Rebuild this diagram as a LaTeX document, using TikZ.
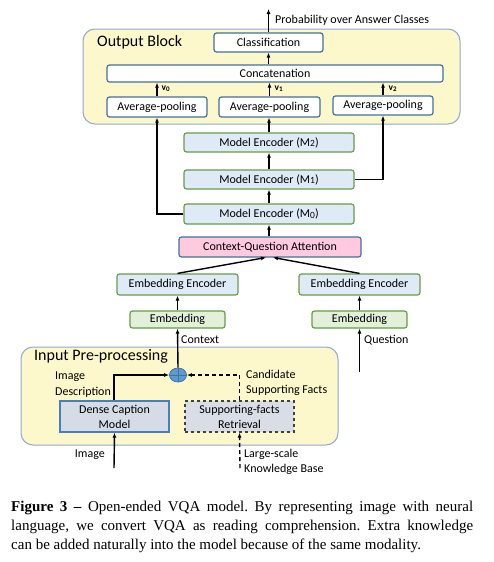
\documentclass[tikz,border=0pt]{standalone}
\usepackage{fontspec}
\setmainfont{Carlito}
\newfontfamily\capfont{Liberation Serif}
\usetikzlibrary{arrows.meta,shapes.geometric}
\definecolor{bdblue}{HTML}{41719C}
\definecolor{bdgreen}{HTML}{6A9A4A}
\definecolor{encfill}{HTML}{DEEBF7}
\definecolor{embfill}{HTML}{E2F0D9}
\definecolor{pinkfill}{HTML}{FFC9DE}
\definecolor{blockfill}{HTML}{FDF8CB}
\definecolor{blockbd}{HTML}{8FAACC}
\definecolor{densefill}{HTML}{D6DCE5}
\definecolor{densebd}{HTML}{4A7EBB}
\definecolor{sfrfill}{HTML}{D9DDE6}
\definecolor{circfill}{HTML}{5B9BD5}
\begin{document}
\begin{tikzpicture}[x=1pt,y=-1pt,
  bx/.style={draw=bdblue, line width=1.2pt, rounded corners=2.5pt, fill=white, inner sep=0pt, font=\fontsize{12}{14}\selectfont},
  enc/.style={bx, draw=bdgreen, fill=encfill},
  emb/.style={bx, draw=bdgreen, fill=embfill},
  blk/.style={draw=blockbd, line width=1pt, fill=blockfill, rounded corners=12pt},
  arr/.style={-{Latex[length=5pt,width=4pt]}, line width=1.4pt},
  darr/.style={arr, dashed, dash pattern=on 4pt off 3pt},
  lbl/.style={font=\fontsize{12}{15}\selectfont, inner sep=0pt, align=left},
  vlbl/.style={lbl, anchor=west, font=\fontsize{9.5}{11}\selectfont\bfseries},
  ttl/.style={font=\fontsize{16}{18}\selectfont, inner sep=0pt}
]
\useasboundingbox (0,0) rectangle (494,562);
\fill[white] (0,0) rectangle (494,562);

% Output block
\draw[blk] (83,29) rectangle (460,124);
\node[ttl, anchor=west] (outt) at (97,42) {Output Block};
\node[bx, minimum width=109pt, minimum height=19pt] (cls) at (268.5,42.5) {Classification};
\node[bx, minimum width=336pt, minimum height=17pt] (cat) at (275,73.5) {Concatenation};
\node[bx, minimum width=100pt, minimum height=20pt] (av1) at (157,107) {Average-pooling};
\node[bx, minimum width=101pt, minimum height=20pt] (av2) at (269.5,107) {Average-pooling};
\node[bx, minimum width=100pt, minimum height=19pt] (av3) at (383,105.5) {Average-pooling};

\coordinate (top) at (268.5,9);
\draw[arr] (cls.north) -- (top);
\node[lbl, anchor=west] (prob) at (275,20) {Probability over Answer Classes};
\draw[arr] (cat.north -| cls) -- (cls.south);
\draw[arr] (av1.north) -- (av1.north |- cat.south);
\draw[arr] (av2.north) -- (av2.north |- cat.south);
\draw[arr] (av3.north) -- (av3.north |- cat.south);
\node[vlbl] (v0) at (161.5,89) {v\raisebox{-1pt}{\fontsize{7}{8}\selectfont 0}};
\node[vlbl] (v1) at (274.5,89) {v\raisebox{-1pt}{\fontsize{7}{8}\selectfont 1}};
\node[vlbl] (v2) at (388.5,89) {v\raisebox{-1pt}{\fontsize{7}{8}\selectfont 2}};

% Encoders
\node[enc, minimum width=170pt, minimum height=19pt] (m2) at (269,142.5) {Model Encoder (M\raisebox{-0.5pt}{\fontsize{9.5}{10}\selectfont 2})};
\node[enc, minimum width=170pt, minimum height=19pt] (m1) at (269,179.5) {Model Encoder (M\raisebox{-0.5pt}{\fontsize{9.5}{10}\selectfont 1})};
\node[enc, minimum width=170pt, minimum height=20pt] (m0) at (269,214) {Model Encoder (M\raisebox{-0.5pt}{\fontsize{9.5}{10}\selectfont 0})};
\node[bx, fill=pinkfill, minimum width=182pt, minimum height=20pt] (cqa) at (270,247) {Context-Question Attention};

\draw[arr] (m2.north) -- (av2.south -| m2.north);
\draw[arr] (m1.east) -- (m1.east -| av3.south) -- (av3.south);
\draw[arr] (m0.west) -- (m0.west -| av1.south) -- (av1.south);
\draw[arr] (m0.north) -- (m1.south);
\draw[arr] (m1.north) -- (m2.south);
\draw[arr] (cqa.north -| m0.north) -- (m0.south);

\node[enc, minimum width=121pt, minimum height=21pt] (eel) at (177.5,284.5) {Embedding Encoder};
\node[enc, minimum width=121pt, minimum height=21pt] (eer) at (359.5,284.5) {Embedding Encoder};
\node[emb, minimum width=95pt, minimum height=17pt] (embl) at (177.5,319.5) {Embedding};
\node[emb, minimum width=95pt, minimum height=17pt] (embr) at (359.5,319.5) {Embedding};

\coordinate (cqal) at (266,257.5);
\coordinate (cqar) at (273,257.5);
\draw[arr] (eel.north) -- (cqal);
\draw[arr] (eer.north) -- (cqar);
\draw[arr] (embl.north) -- (eel.south);
\draw[arr] (embr.north) -- (eer.south);

% Input block
\draw[blk] (21,347) rectangle (338,445);
\node[ttl, anchor=west] (inpt) at (34,356) {Input Pre-processing};
\node[draw=densebd, line width=1.2pt, fill=densefill, minimum width=109pt, minimum height=31pt, inner sep=0pt, align=center, font=\fontsize{12}{15}\selectfont] (dense) at (114.5,416.5) {Dense Caption\\Model};
\node[draw=black!75, dashed, line width=1.1pt, fill=sfrfill, minimum width=109pt, minimum height=31pt, inner sep=0pt, align=center, font=\fontsize{12}{15}\selectfont] (sfr) at (239.5,416.5) {Supporting-facts\\Retrieval};

\node[draw=bdblue, line width=0.8pt, fill=circfill, ellipse, minimum width=17pt, minimum height=14pt, inner sep=0pt] (plus) at (178,375) {};
\draw[bdblue, line width=0.7pt] (plus.north) -- (plus.south) (plus.west) -- (plus.east);

\draw[arr] (plus.north) -- (embl.south);
\node[lbl, anchor=west] (ctx) at (181,340) {Context};
\coordinate (qin) at (359.5,372);
\draw[arr] (qin) -- (embr.south);
\node[lbl, anchor=west] (qst) at (364,340) {Question};

\draw[arr] (dense.north -| 114,0) -- (114,375) -- (plus.west);
\draw[darr] (sfr.north) -- (sfr.north |- plus.east) -- (plus.east);
\node[lbl, anchor=west, align=left, font=\fontsize{12}{16}\selectfont] (imd) at (55,385) {Image\\Description};
\node[lbl, anchor=west, align=left, font=\fontsize{12}{15}\selectfont] (csf) at (246,382.5) {Candidate\\Supporting Facts};

\coordinate (imin) at (114,468);
\draw[arr] (imin) -- (dense.south);
\node[lbl, anchor=east] (img) at (105,455) {Image};
\coordinate (kbin) at (240,468);
\draw[darr] (kbin) -- (sfr.south);
\node[lbl, anchor=west, align=left, font=\fontsize{12}{15}\selectfont] (kb) at (244,461.5) {Large-scale\\Knowledge Base};

% Caption
\node[anchor=west, inner sep=0pt, font=\capfont\fontsize{15}{20}\selectfont\frenchspacing] (c1) at (11,508) {\makebox[462pt][s]{\textbf{Figure 3 –} Open-ended VQA model. By representing image with neural}};
\node[anchor=west, inner sep=0pt, font=\capfont\fontsize{15}{20}\selectfont\frenchspacing] (c2) at (11,527) {\makebox[462pt][s]{language, we convert VQA as reading comprehension. Extra knowledge}};
\node[anchor=west, inner sep=0pt, font=\capfont\fontsize{15}{20}\selectfont\frenchspacing] (c3) at (11,546) {can be added naturally into the model because of the same modality.};
\end{tikzpicture}
\end{document}
